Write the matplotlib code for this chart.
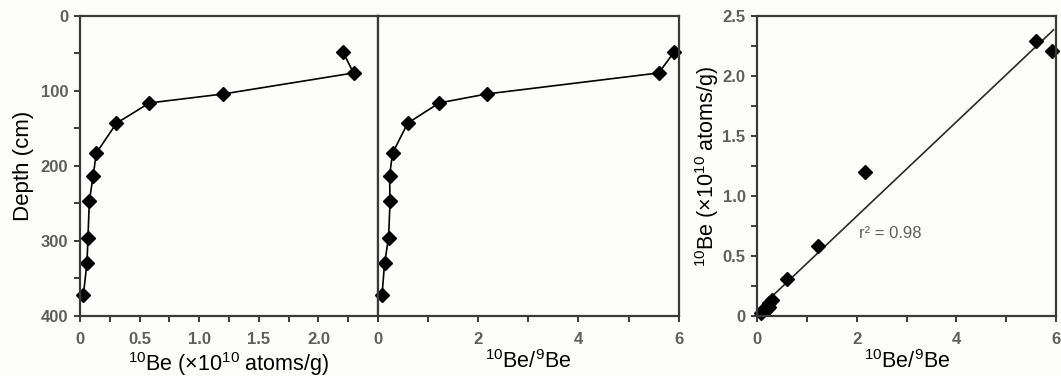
import matplotlib
matplotlib.use("Agg")
import matplotlib.pyplot as plt
from matplotlib.ticker import MultipleLocator
import numpy as np

plt.rcParams['font.family'] = ['Liberation Sans', 'DejaVu Sans']
plt.rcParams['mathtext.fontset'] = 'custom'
plt.rcParams['mathtext.rm'] = 'Liberation Sans'

# depth profile values
depth_cm = [48, 76, 104, 116, 143, 183, 213, 247, 296, 330, 372]
be10 = [2.205, 2.295, 1.203, 0.582, 0.306, 0.136, 0.111, 0.078, 0.067, 0.058, 0.028]
be_ratio = [5.91, 5.60, 2.17, 1.22, 0.59, 0.29, 0.23, 0.24, 0.21, 0.13, 0.08]

spine_col = '#3a3a3a'
tick_col = '#5e5e5e'
bg = '#fdfdfb'

fig = plt.figure(figsize=(10.61, 3.76), dpi=100, facecolor=bg)
ax1 = fig.add_axes([0.0754, 0.1596, 0.2809, 0.798])
ax2 = fig.add_axes([0.3563, 0.1596, 0.2834, 0.798])
ax3 = fig.add_axes([0.7138, 0.1596, 0.2815, 0.798])

for ax in (ax1, ax2, ax3):
    ax.set_facecolor(bg)
    for s in ax.spines.values():
        s.set_color(spine_col)
        s.set_linewidth(1.6)
    ax.tick_params(which='both', direction='out', color=spine_col, width=1.4,
                   labelsize=12, labelcolor=tick_col, top=False, right=False)
    ax.tick_params(which='major', length=4.5)
    ax.tick_params(which='minor', length=4)
    ax.tick_params(axis='x', which='major', pad=7)
    ax.tick_params(axis='y', which='major', pad=4)

mk = dict(marker='D', markersize=7, color='black', linewidth=1.2, clip_on=False)

# panel 1: 10Be vs depth
ax1.plot(be10, depth_cm, **mk)
ax1.set_xlim(0, 2.5)
ax1.set_ylim(400, 0)
ax1.set_xticks([0, 0.5, 1.0, 1.5, 2.0])
ax1.set_xticklabels(['0', '0.5', '1.0', '1.5', '2.0'], fontweight='bold')
ax1.xaxis.set_minor_locator(MultipleLocator(0.25))
ax1.set_yticks([0, 100, 200, 300, 400])
ax1.set_yticklabels(['0', '100', '200', '300', '400'], fontweight='bold')
ax1.yaxis.set_minor_locator(MultipleLocator(50))
ax1.set_ylabel('Depth (cm)', fontsize=16, labelpad=5)
ax1.set_xlabel(r'$^{10}$Be ($\times$10$^{10}$ atoms/g)', fontsize=15.5, labelpad=2)

# panel 2: 10Be/9Be vs depth
ax2.plot(be_ratio, depth_cm, **mk)
ax2.set_xlim(0, 6)
ax2.set_ylim(400, 0)
ax2.set_xticks([0, 2, 4, 6])
ax2.set_xticklabels(['0', '2', '4', '6'], fontweight='bold')
ax2.xaxis.set_minor_locator(MultipleLocator(1))
ax2.set_yticks([])
ax2.set_xlabel(r'$^{10}$Be/$^{9}$Be', fontsize=15.5, labelpad=2)

# panel 3: correlation
fit = np.polyfit(be_ratio, be10, 1)
xs = np.array([0, 5.95])
ax3.plot(xs, np.polyval(fit, xs), color='#2a2a2a', linewidth=1.2)
ax3.plot(be_ratio, be10, linestyle='none', marker='D', markersize=7,
         color='black', clip_on=False)
ax3.text(2.05, 0.69, 'r² = 0.98', fontsize=12, color=tick_col, va='center')
ax3.set_xlim(0, 6)
ax3.set_ylim(0, 2.5)
ax3.set_xticks([0, 2, 4, 6])
ax3.set_xticklabels(['0', '2', '4', '6'], fontweight='bold')
ax3.xaxis.set_minor_locator(MultipleLocator(1))
ax3.set_yticks([0, 0.5, 1.0, 1.5, 2.0, 2.5])
ax3.set_yticklabels(['0', '0.5', '1.0', '1.5', '2.0', '2.5'], fontweight='bold')
ax3.yaxis.set_minor_locator(MultipleLocator(0.25))
ax3.set_xlabel(r'$^{10}$Be/$^{9}$Be', fontsize=15.5, labelpad=2)
ax3.set_ylabel(r'$^{10}$Be ($\times$10$^{10}$ atoms/g)', fontsize=15.5, labelpad=1)

fig.savefig('out.png', dpi=100, facecolor=bg)
